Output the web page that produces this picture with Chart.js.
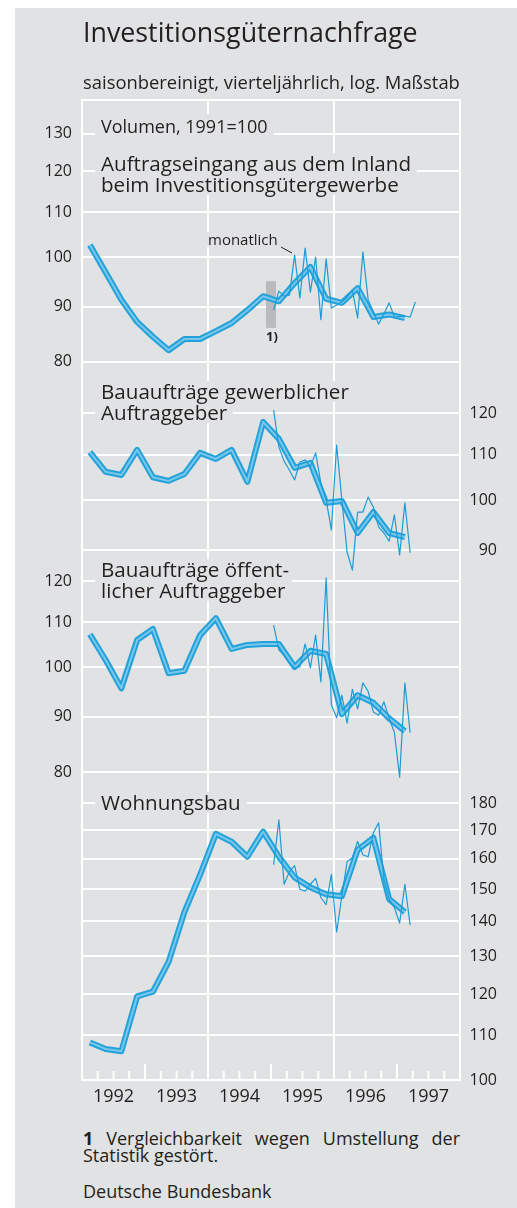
<!DOCTYPE html>
<html lang="de">
<head>
<meta charset="UTF-8">
<title>Investitionsgüternachfrage</title>
<script src="https://cdn.jsdelivr.net/npm/chart.js"></script>
<style>
  body { margin: 0; background: #fff; font-family: "Open Sans", sans-serif; color: #231f20; }
  #page { position: relative; width: 517px; height: 1208px; overflow: hidden; }
  #bg { position: absolute; left: 15px; top: 8px; right: 0; bottom: 0; background: #e1e2e4; }
  #chartBox { position: absolute; left: 0; top: 0; width: 517px; height: 1120px; }
  .txt { position: absolute; white-space: nowrap; }
  .lbl { position: absolute; left: 95px; }
  .lbl div { display: table; background: #e1e2e4; padding: 0 6px; white-space: nowrap; }
  .lbl .p { font-size: 20.6px; line-height: 21px; }
</style>
</head>
<body>
<div id="page">
  <div id="bg"></div>
  <div id="chartBox"><canvas id="chart" width="517" height="1120"></canvas></div>

  <div class="txt" style="left:83px;top:19px;font-size:26.8px;line-height:26px">Investitionsgüternachfrage</div>
  <div class="txt" style="left:83px;top:73px;font-size:18.4px;line-height:18px">saisonbereinigt, vierteljährlich, log. Maßstab</div>

  <div class="lbl" style="top:114px">
    <div style="font-size:18px;line-height:24px;padding-bottom:14.5px">Volumen, 1991=100</div>
    <div class="p">Auftragseingang aus dem Inland</div>
    <div class="p">beim Investitionsgütergewerbe</div>
  </div>
  <div class="lbl" style="top:380.5px">
    <div class="p">Bauaufträge gewerblicher</div>
    <div class="p">Auftraggeber</div>
  </div>
  <div class="lbl" style="top:558.5px">
    <div class="p">Bauaufträge öffent-</div>
    <div class="p">licher Auftraggeber</div>
  </div>
  <div class="lbl" style="top:791.5px">
    <div class="p">Wohnungsbau</div>
  </div>

  <div class="txt" style="left:206px;top:232px;font-size:15px;line-height:15px;background:#e1e2e4;padding:0 2px">monatlich</div>
  <svg style="position:absolute;left:0;top:0" width="517" height="400">
    <line x1="281" y1="247" x2="292" y2="253" stroke="#231f20" stroke-width="1"/>
  </svg>
  <div class="txt" style="left:266px;top:330px;font-size:13px;line-height:13px;font-weight:700">1)</div>

  <div class="txt" style="left:83px;top:1129.5px;width:377px;white-space:normal;text-align:justify;font-size:18px;line-height:17px"><b>1</b> Vergleichbarkeit wegen Umstellung der Statistik gestört.</div>
  <div class="txt" style="left:83px;top:1182px;font-size:18px;line-height:18px">Deutsche Bundesbank</div>
</div>

<script>
  // quarterly values (thick line) and monthly values (thin line)
  const quarters = ['1992 Q1', '1992 Q2', '1992 Q3', '1992 Q4', '1993 Q1', '1993 Q2', '1993 Q3', '1993 Q4',
                    '1994 Q1', '1994 Q2', '1994 Q3', '1994 Q4', '1995 Q1', '1995 Q2', '1995 Q3', '1995 Q4',
                    '1996 Q1', '1996 Q2', '1996 Q3', '1996 Q4', '1997 Q1'];
  const months = ['1995-01', '1995-02', '1995-03', '1995-04', '1995-05', '1995-06', '1995-07', '1995-08',
                  '1995-09', '1995-10', '1995-11', '1995-12', '1996-01', '1996-02', '1996-03', '1996-04',
                  '1996-05', '1996-06', '1996-07', '1996-08', '1996-09', '1996-10', '1996-11', '1996-12',
                  '1997-01', '1997-02', '1997-03', '1997-04'];
  const yearLabels = ['1992', '1993', '1994', '1995', '1996', '1997'];

  const inlandQuarterly = [102.6, 96.8, 91.3, 87.1, 84.4, 82.0, 84.0, 84.0, 85.4, 86.9, 89.3, 92.0,
                           91.0, 94.6, 97.9, 91.5, 90.7, 93.6, 88.0, 88.5, 87.8];
  const inlandMonthly = [89.3, 93.0, 92.0, 92.2, 100.4, 91.6, 101.9, 92.8, 100.0, 87.5, 99.6, 89.7,
                         90.3, 90.9, 91.8, 93.2, 87.8, 101.1, 91.3, 89.0, 86.7, 88.6, 90.7, 88.0,
                         88.1, 88.2, 88.0, 90.9];

  const gewerbQuarterly = [110.6, 106.1, 105.4, 111.1, 104.9, 104.1, 105.6, 110.4, 109.0, 111.1, 103.9, 117.8,
                           113.7, 107.0, 108.1, 99.4, 99.8, 93.3, 97.5, 93.3, 92.5];
  const gewerbMonthly = [120.8, 111.8, 108.5, 106.5, 104.3, 108.3, 108.8, 107.2, 110.4, 103.6, 100.0, 93.9,
                         112.2, 100.0, 89.6, 86.3, 97.5, 97.5, 100.6, 98.5, 94.5, 93.3, 91.7, 96.9,
                         89.1, 99.4, 89.5, null];

  const oeffQuarterly = [107.2, 101.5, 95.6, 105.9, 108.4, 98.7, 99.2, 107.0, 110.9, 103.9, 104.8, 105.0,
                         105.0, 100.0, 103.5, 102.8, 90.5, 94.2, 92.7, 89.7, 87.3];
  const oeffMonthly = [109.3, 103.7, 102.5, 100.8, 99.8, 100.0, 105.0, 99.8, 107.0, 96.9, 120.8, 92.3,
                       89.8, 94.2, 88.8, 95.4, 91.5, 96.7, 95.0, 90.9, 90.3, 92.9, 89.7, 87.1,
                       79.2, 96.7, 87.0, null];

  const wohnQuarterly = [108.3, 106.8, 106.3, 119.4, 120.6, 128.5, 142.8, 154.6, 168.6, 165.8, 160.6, 169.4,
                         160.6, 153.7, 150.5, 148.3, 147.7, 163.0, 167.2, 146.8, 142.8];
  const wohnMonthly = [157.9, 173.7, 151.5, 155.6, 157.6, 149.9, 149.3, 151.5, 153.4, 147.3, 145.1, 154.7,
                       136.9, 147.7, 159.0, 160.3, 165.9, 161.3, 160.6, 169.0, 172.6, 153.0, 146.8, 144.2,
                       139.5, 151.5, 138.9, null];

  const inlandTicks = [80, 90, 100, 110, 120, 130];
  const gewerbTicks = [90, 100, 110, 120];
  const oeffTicks = [80, 90, 100, 110, 120];
  const wohnTicks = [100, 110, 120, 130, 140, 150, 160, 170, 180];

  // statistical break (footnote 1)
  const breakAt = 1995;
  const breakRange = [86, 95];

  const blue = '#23a2da';
  const lightBlue = '#79c7ec';
  const white = '#ffffff';
  const textColor = '#231f20';
  const narrow = '"Liberation Sans Narrow", "Open Sans", sans-serif';

  function quarterPos(q) {
    const [y, n] = q.split(' Q');
    return +y + (+n - 0.5) / 4;
  }
  function monthPos(m) {
    const [y, n] = m.split('-');
    return +y + (+n - 0.5) / 12;
  }

  function panel(axis, quarterly, monthly) {
    const q = quarters.map((d, i) => ({ x: quarterPos(d), y: quarterly[i] }));
    const m = months.map((d, i) => ({ x: monthPos(d), y: monthly[i] }));
    return [
      { data: q, yAxisID: axis, borderColor: blue, borderWidth: 6, order: 3 },
      { data: q, yAxisID: axis, borderColor: lightBlue, borderWidth: 2, order: 2 },
      { data: m, yAxisID: axis, borderColor: '#1c9cd6', borderWidth: 1.2, order: 1 }
    ];
  }

  const quarterTicks = [];
  for (let i = 0; i <= 24; i++) quarterTicks.push(1992 + i * 0.25);

  function yAxis(position, weight, stackWeight, min, max, tickValues, width) {
    return {
      type: 'logarithmic',
      position: position,
      stack: position,
      stackWeight: stackWeight,
      weight: weight,
      min: min,
      max: max,
      bounds: 'data',
      afterBuildTicks: s => { s.ticks = tickValues.map(v => ({ value: v })); },
      afterFit: s => { s.width = width; },
      grid: { color: white, lineWidth: 2, drawTicks: false },
      border: { display: false },
      ticks: {
        autoSkip: false,
        padding: 10,
        crossAlign: position === 'right' ? 'far' : 'near',
        color: textColor,
        font: { family: narrow, size: 16 },
        callback: v => String(v)
      }
    };
  }

  const extras = {
    id: 'extras',
    beforeDatasetsDraw(chart) {
      const { ctx, chartArea, scales: { x, y1 } } = chart;
      ctx.save();
      // grey bar marking the break
      const bx0 = x.getPixelForValue(breakAt - 0.08);
      const bx1 = x.getPixelForValue(breakAt + 0.08);
      const by0 = y1.getPixelForValue(breakRange[1]);
      const by1 = y1.getPixelForValue(breakRange[0]);
      ctx.fillStyle = '#b9babc';
      ctx.fillRect(bx0, by0, bx1 - bx0, by1 - by0);
      // inward ticks on the time axis
      ctx.strokeStyle = white;
      ctx.lineWidth = 2;
      x.ticks.forEach(t => {
        const px = x.getPixelForValue(t.value);
        const len = t.value % 1 === 0 ? 16 : 9;
        ctx.beginPath();
        ctx.moveTo(px, chartArea.bottom);
        ctx.lineTo(px, chartArea.bottom - len);
        ctx.stroke();
      });
      ctx.restore();
    }
  };

  new Chart(document.getElementById('chart'), {
    type: 'line',
    data: {
      datasets: [
        ...panel('y1', inlandQuarterly, inlandMonthly),
        ...panel('y2', gewerbQuarterly, gewerbMonthly),
        ...panel('y3', oeffQuarterly, oeffMonthly),
        ...panel('y4', wohnQuarterly, wohnMonthly)
      ]
    },
    options: {
      responsive: false,
      animation: false,
      events: [],
      layout: { padding: { top: 100, right: 20, left: 0, bottom: 0 } },
      elements: {
        point: { radius: 0 },
        line: { tension: 0, fill: false, borderJoinStyle: 'round', borderCapStyle: 'butt' }
      },
      plugins: { legend: { display: false }, tooltip: { enabled: false } },
      scales: {
        x: {
          type: 'linear',
          min: 1992,
          max: 1998,
          afterBuildTicks: s => { s.ticks = quarterTicks.map(v => ({ value: v })); },
          afterFit: s => { s.height = 40; },
          grid: {
            color: c => (c.tick && c.tick.value % 2 === 0) ? white : 'rgba(0,0,0,0)',
            lineWidth: 2,
            drawTicks: false
          },
          border: { display: true, color: white, width: 2 },
          ticks: {
            autoSkip: false,
            maxRotation: 0,
            padding: 6,
            color: textColor,
            font: { family: '"Open Sans", sans-serif', size: 18 },
            callback: v => (v % 1 === 0.5) ? yearLabels[Math.floor(v) - 1992] : ''
          }
        },
        xTop: {
          type: 'linear',
          position: 'top',
          min: 1992,
          max: 1998,
          afterFit: s => { s.height = 0; },
          grid: { display: false },
          ticks: { display: false },
          border: { display: true, color: white, width: 2 }
        },
        y1: yAxis('left', 2, 370, 63.56, 139.66, inlandTicks, 82),
        y3: yAxis('left', 1, 610, 41.69, 151.8, oeffTicks, 82),
        y2: yAxis('right', 1, 580, 68.51, 231.7, gewerbTicks, 37),
        y4: yAxis('right', 2, 400, 100, 233.7, wohnTicks, 37)
      }
    },
    plugins: [extras]
  });
</script>
</body>
</html>
